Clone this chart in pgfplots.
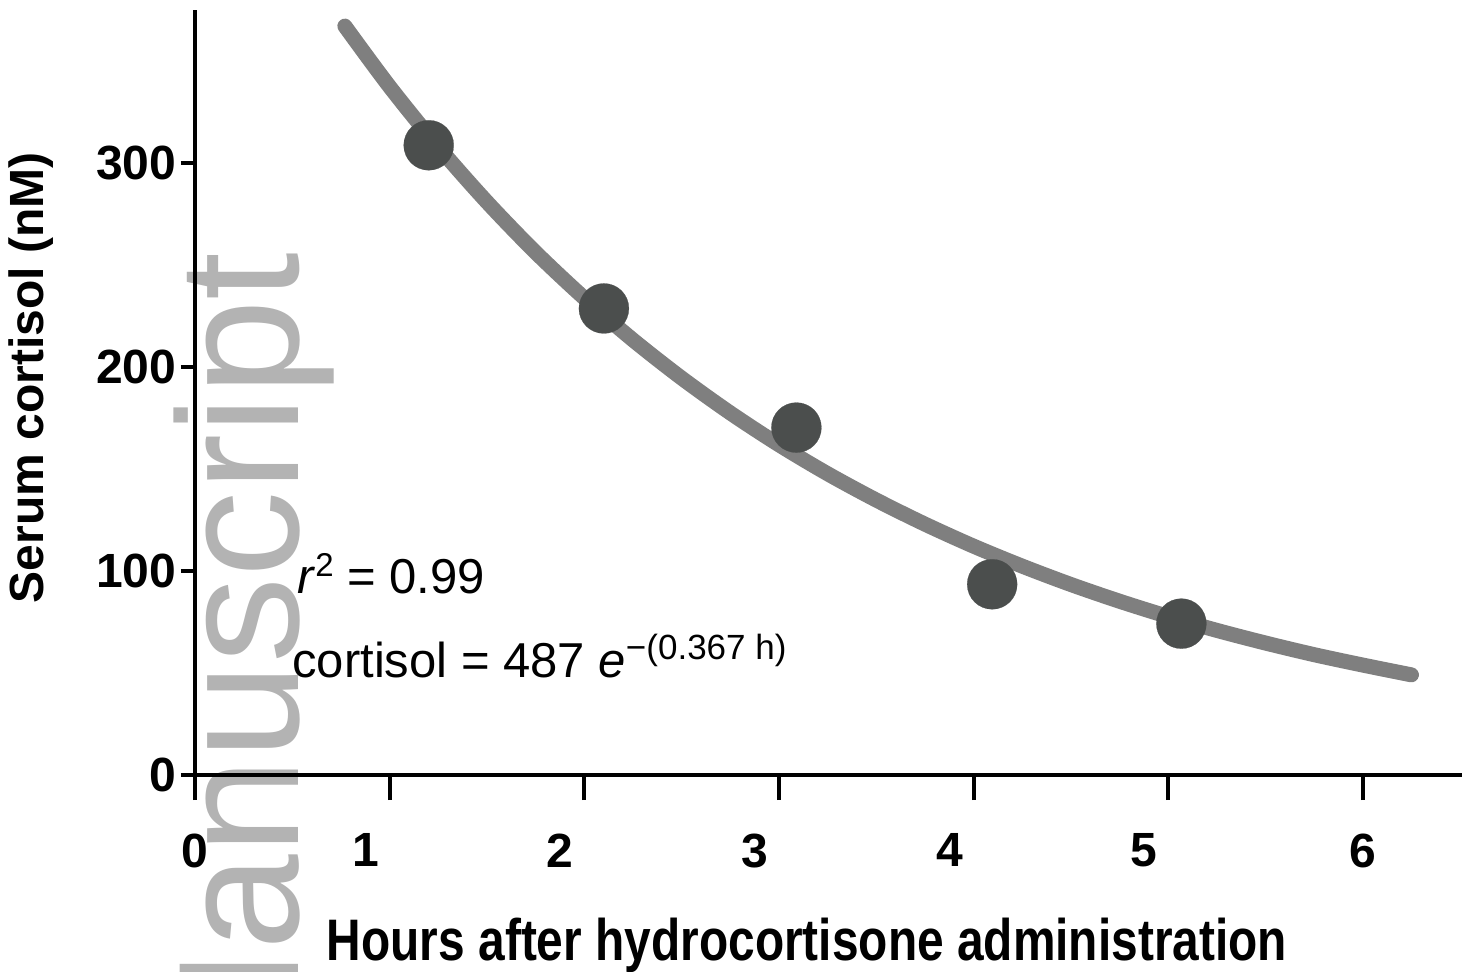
\documentclass[border=0pt]{standalone}
\usepackage{pgfplots}
\pgfplotsset{compat=1.18}
\usepackage{fontspec}
\setmainfont{Liberation Sans}
\usepackage{graphicx}
\definecolor{fitgray}{HTML}{7F7F7F}
\definecolor{ptgray}{HTML}{4B4E4D}
\definecolor{wmgray}{HTML}{B3B3B3}
\begin{document}
\begin{tikzpicture}
% watermark (behind the axis)
\node[wmgray, rotate=90, anchor=base east, inner sep=0pt, font=\fontsize{86}{90}\selectfont] at (51.5pt,261.5pt) {Manuscript};
\begin{axis}[
  scale only axis, width=633.5pt, height=382.5pt,
  xmin=0, xmax=6.51, ymin=0, ymax=375,
  axis lines=left,
  axis line style={line width=2pt, -},
  clip=false,
  tick align=outside,
  xtick={0,1,2,3,4,5,6},
  ytick={0,100,200,300},
  xticklabels={{0},{\makebox[0pt]{1\hspace{24pt}}},{\makebox[0pt]{2\hspace{24pt}}},{\makebox[0pt]{3\hspace{24pt}}},{\makebox[0pt]{4\hspace{24pt}}},{\makebox[0pt]{5\hspace{24pt}}},{6}},
  major x tick style={line width=2pt, black, /pgfplots/major tick length=12.5pt},
  major y tick style={line width=2pt, black, /pgfplots/major tick length=7pt},
  /pgf/number format/assume math mode=true,
  ticklabel style={font=\fontsize{24}{28}\selectfont\bfseries},
  xticklabel style={yshift=-21.5pt},
  yticklabel style={xshift=-1.5pt},
  xlabel={\resizebox{480pt}{\height}{\fontsize{29.3}{34}\selectfont\bfseries Hours after hydrocortisone administration}},
  xlabel style={at={(axis description cs:0.4830,-0.2418)}, anchor=base},
  ylabel={\fontsize{24}{28}\selectfont\bfseries Serum cortisol (nM)},
  ylabel style={at={(axis description cs:-0.1294,0.519)}, anchor=center},
]
\addplot[fitgray, line width=7.5pt, line cap=round, smooth, no marks] coordinates {
(0.77,367.1) (1.0,337.4) (1.25,307.9) (1.5,280.9) (1.75,256.2) (2.0,233.8)
(2.25,213.3) (2.5,194.6) (2.75,177.5) (3.0,161.9) (3.25,147.7) (3.5,134.8)
(3.75,123.0) (4.0,112.2) (4.25,102.4) (4.5,93.4) (4.75,85.2) (5.0,77.7)
(5.25,70.9) (5.5,64.7) (5.75,59.0) (6.0,53.9) (6.25,49.1)};
\addplot[only marks, mark=*, mark size=12.5pt, mark options={fill=ptgray, draw=ptgray, line width=0.1pt}] coordinates {
(1.201,308.7) (2.101,228.7) (3.090,170.3) (4.096,93.5) (5.068,74.2)};
\node[anchor=base west, inner sep=0pt, font=\fontsize{24.5}{28}\selectfont] at (axis cs:0.5235,89.07)
  {\textit{r}\raisebox{8.5pt}{\fontsize{16.5}{18}\selectfont 2} = 0.99};
\node[anchor=base west, inner sep=0pt, font=\fontsize{24.5}{28}\selectfont] at (axis cs:0.498,47.96)
  {cortisol = 487 \textit{e}\raisebox{9pt}{\fontsize{17.5}{19}\selectfont −(0.367 h)}};
\end{axis}
\pgfresetboundingbox
\useasboundingbox (-97.5pt,-98pt) rectangle (640pt,387.5pt);
\end{tikzpicture}
\end{document}
